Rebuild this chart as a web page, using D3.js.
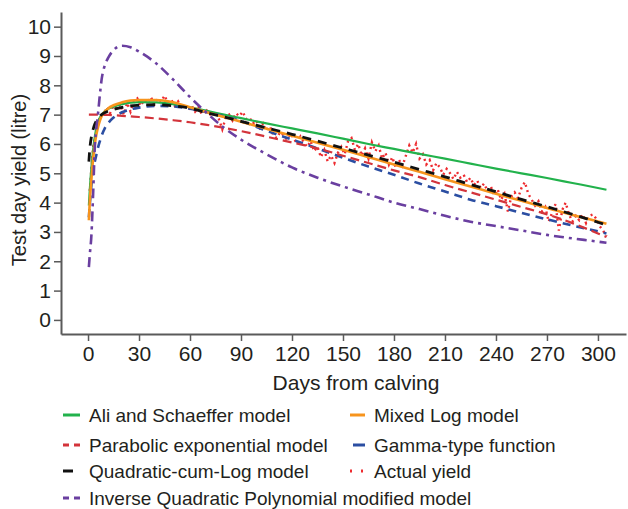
<!DOCTYPE html>
<html>
<head>
<meta charset="utf-8">
<script src="https://cdn.jsdelivr.net/npm/d3@7"></script>
<style>
  body { margin: 0; background: #fff; }
  text { font-family: "Liberation Sans", Arial, sans-serif; fill: #231f20; }
</style>
</head>
<body>
<div id="chart-area"></div>
<script>
// model curves share these days
var days = [0.5, 1, 2, 3, 4, 5, 6, 7, 8, 10, 12, 15, 20, 25, 30, 40, 50, 60, 70, 80, 90,
    105, 120, 135, 150, 165, 180, 195, 210, 225, 240, 255, 270, 285, 300, 305];

var aliSchaeffer = [3.9, 4.4, 5.2, 5.8, 6.25, 6.55, 6.75, 6.9, 7.0, 7.12, 7.2, 7.27, 7.36, 7.41, 7.43, 7.42, 7.36, 7.25, 7.13, 7.0, 6.88,
    6.7, 6.53, 6.36, 6.18, 6.0, 5.83, 5.66, 5.5, 5.33, 5.16, 5.0, 4.84, 4.67, 4.5, 4.44];
var mixedLog = [3.4, 4.0, 4.8, 5.5, 6.0, 6.35, 6.6, 6.8, 6.95, 7.1, 7.22, 7.32, 7.42, 7.48, 7.5, 7.5, 7.42, 7.25, 7.08, 6.92, 6.76,
    6.52, 6.28, 6.04, 5.8, 5.55, 5.3, 5.05, 4.8, 4.55, 4.3, 4.06, 3.82, 3.58, 3.36, 3.28];
var parabolicExp = [7.0, 7.0, 7.0, 7.0, 7.0, 7.0, 7.0, 7.0, 7.0, 6.99, 6.99, 6.98, 6.96, 6.94, 6.92, 6.87, 6.81, 6.74, 6.65, 6.55, 6.44,
    6.25, 6.05, 5.85, 5.6, 5.35, 5.1, 4.87, 4.6, 4.35, 4.1, 3.85, 3.6, 3.3, 2.95, 2.83];
var gammaType = [3.5, 3.9, 4.6, 5.1, 5.4, 5.65, 5.9, 6.1, 6.28, 6.55, 6.72, 6.9, 7.08, 7.18, 7.24, 7.3, 7.28, 7.2, 7.08, 6.94, 6.78,
    6.45, 6.15, 5.85, 5.53, 5.23, 4.95, 4.65, 4.38, 4.1, 3.88, 3.65, 3.43, 3.22, 3.02, 2.95];
var quadCumLog = [5.4, 5.8, 6.25, 6.5, 6.68, 6.8, 6.88, 6.95, 7.0, 7.07, 7.12, 7.18, 7.25, 7.3, 7.32, 7.34, 7.3, 7.22, 7.06, 6.92, 6.77,
    6.55, 6.33, 6.1, 5.86, 5.62, 5.38, 5.13, 4.88, 4.62, 4.37, 4.11, 3.86, 3.6, 3.33, 3.24];
var invQuadPoly = [1.8, 2.2, 2.9, 4.3, 5.9, 6.6, 7.1, 7.7, 8.2, 8.7, 8.95, 9.2, 9.35, 9.3, 9.15, 8.75, 8.2, 7.6, 7.05, 6.55, 6.15,
    5.65, 5.2, 4.85, 4.55, 4.28, 4.0, 3.78, 3.55, 3.35, 3.2, 3.05, 2.9, 2.78, 2.67, 2.63];

// actual test day yield, every second day from day 1 to day 305
var actualDays = d3.range(1, 306, 2);
var actualYield = [
    4.4, 5.9, 6.5, 6.95, 7.0, 7.25, 7.05, 7.3, 7.2, 7.35, 7.0, 7.4, 7.1, 7.45, 7.55, 7.3, 7.5, 7.4, 7.6, 7.35,
    7.55, 7.45, 7.65, 7.4, 7.5, 7.3, 7.45, 7.2, 7.35, 7.15, 7.3, 7.1, 7.25, 7.0, 7.2, 7.05, 6.95, 7.1, 6.85, 6.5,
    6.9, 7.0, 6.8, 7.05, 6.95, 7.1, 6.85, 6.9, 6.7, 6.8, 6.55, 6.7, 6.45, 6.6, 6.3, 6.2, 6.4, 6.3, 6.15, 6.35,
    6.2, 6.0, 6.25, 6.05, 5.9, 6.1, 5.75, 5.9, 5.55, 5.8, 5.4, 5.6, 5.35, 5.7, 5.9, 5.65, 6.1, 6.2, 5.8, 6.0,
    5.6, 5.85, 5.5, 6.05, 5.75, 5.95, 5.5, 5.7, 5.3, 5.55, 5.2, 5.45, 5.25, 5.6, 5.95, 5.7, 6.0, 5.5, 5.65, 5.3,
    5.45, 5.1, 5.35, 5.2, 4.95, 5.15, 5.0, 4.8, 5.05, 4.85, 4.95, 4.7, 4.85, 4.6, 4.75, 4.5, 4.65, 4.4, 4.55, 4.25,
    4.45, 4.1, 4.3, 3.7, 4.2, 4.35, 4.15, 4.5, 4.7, 4.3, 4.1, 3.9, 4.05, 3.7, 3.85, 3.35, 3.65, 3.95, 3.05, 3.75,
    4.0, 3.6, 3.35, 3.55, 3.4, 3.6, 3.3, 3.55, 3.6, 3.45, 3.2, 3.05, 2.85];

var xTicks = [0, 30, 60, 90, 120, 150, 180, 210, 240, 270, 300];
var yTicks = [0, 1, 2, 3, 4, 5, 6, 7, 8, 9, 10];

var width = 628;
var height = 509;

var svg = d3.select('#chart-area')
    .append('svg')
    .attr('width', width)
    .attr('height', height);

var x = d3.scaleLinear()
    .domain([-15.9, 316.5])
    .range([61, 626]);

var y = d3.scaleLinear()
    .domain([-0.48, 10.5])
    .range([334, 12]);

var series = [
    { name: 'Ali and Schaeffer model', values: aliSchaeffer, color: '#22b24c', width: 2.2, dash: null },
    { name: 'Mixed Log model', values: mixedLog, color: '#f7941d', width: 2.6, dash: null },
    { name: 'Parabolic exponential model', values: parabolicExp, color: '#d3343b', width: 2.2, dash: '9,5' },
    { name: 'Gamma-type function', values: gammaType, color: '#2b4ea2', width: 2.6, dash: '8,6' },
    { name: 'Quadratic-cum-Log model', values: quadCumLog, color: '#111111', width: 2.8, dash: '9,7' },
    { name: 'Inverse Quadratic Polynomial modified model', values: invQuadPoly, color: '#6a3fa0', width: 2.6, dash: '10,5,3,5' }
];

var line = d3.line()
    .x(function (d) { return x(d[0]); })
    .y(function (d) { return y(d[1]); })
    .curve(d3.curveMonotoneX);

// actual yield as a dotted line
svg.append('path')
    .attr('d', line.curve(d3.curveLinear)(d3.zip(actualDays, actualYield)))
    .attr('fill', 'none')
    .attr('stroke', '#ee2b2f')
    .attr('stroke-width', 2.4)
    .attr('stroke-dasharray', '2,3.5');

line.curve(d3.curveMonotoneX);

// draw order: green, gamma, parabolic, orange, black, purple
var order = [0, 3, 2, 1, 4, 5];
order.forEach(function (i) {
    var s = series[i];
    svg.append('path')
        .attr('d', line(d3.zip(days, s.values)))
        .attr('fill', 'none')
        .attr('stroke', s.color)
        .attr('stroke-width', s.width)
        .attr('stroke-dasharray', s.dash);
});

// axes
var xAxis = d3.axisBottom(x)
    .tickValues(xTicks)
    .tickSize(7)
    .tickPadding(5)
    .tickSizeOuter(0);
var gx = svg.append('g')
    .attr('transform', 'translate(0,334)')
    .call(xAxis);

var yAxis = d3.axisLeft(y)
    .tickValues(yTicks)
    .tickSize(7)
    .tickPadding(3)
    .tickSizeOuter(0);
var gy = svg.append('g')
    .attr('transform', 'translate(61,0)')
    .call(yAxis);

[gx, gy].forEach(function (g) {
    g.select('.domain').attr('stroke', '#5a5a5a').attr('stroke-width', 2);
    g.selectAll('.tick line').attr('stroke', '#5a5a5a').attr('stroke-width', 1.5);
    g.selectAll('.tick text')
        .attr('font-size', 21)
        .attr('font-family', '"Liberation Sans", Arial, sans-serif')
        .attr('fill', '#231f20');
});

svg.append('text')
    .attr('x', 356)
    .attr('y', 390)
    .attr('text-anchor', 'middle')
    .attr('font-size', 21)
    .text('Days from calving');

svg.append('text')
    .attr('transform', 'translate(26,180) rotate(-90)')
    .attr('text-anchor', 'middle')
    .attr('font-size', 20)
    .text('Test day yield (litre)');

// legend
var legendItems = [
    { label: series[0].name, s: series[0], col: 0, row: 0, len: 17, dash: null },
    { label: series[1].name, s: series[1], col: 1, row: 0, len: 15, dash: null },
    { label: series[2].name, s: series[2], col: 0, row: 1, len: 17, dash: '6,5' },
    { label: series[3].name, s: series[3], col: 1, row: 1, len: 12, dash: null },
    { label: series[4].name, s: series[4], col: 0, row: 2, len: 10, dash: null },
    { label: 'Actual yield', s: { color: '#ee2b2f' }, col: 1, row: 2, len: 15, dash: '2,9' },
    { label: series[5].name, s: series[5], col: 0, row: 3, len: 17, dash: '6,5' }
];
var rowY = [415, 445, 471, 498];
var colX = [63, 350];

var legend = svg.selectAll('.legend-item')
    .data(legendItems)
    .enter()
    .append('g')
    .attr('class', 'legend-item')
    .attr('transform', function (d) {
        return 'translate(' + colX[d.col] + ',' + rowY[d.row] + ')';
    });

legend.append('line')
    .attr('x1', function (d) { return d.col === 1 && d.len < 15 ? 3 : 0; })
    .attr('x2', function (d) { return (d.col === 1 && d.len < 15 ? 3 : 0) + d.len; })
    .attr('y1', 0)
    .attr('y2', 0)
    .attr('stroke', function (d) { return d.s.color; })
    .attr('stroke-width', 3)
    .attr('stroke-dasharray', function (d) { return d.dash; });

legend.append('text')
    .attr('x', function (d) { return d.col === 0 ? 26 : 24; })
    .attr('y', 7)
    .attr('font-size', 19)
    .text(function (d) { return d.label; });
</script>
</body>
</html>
